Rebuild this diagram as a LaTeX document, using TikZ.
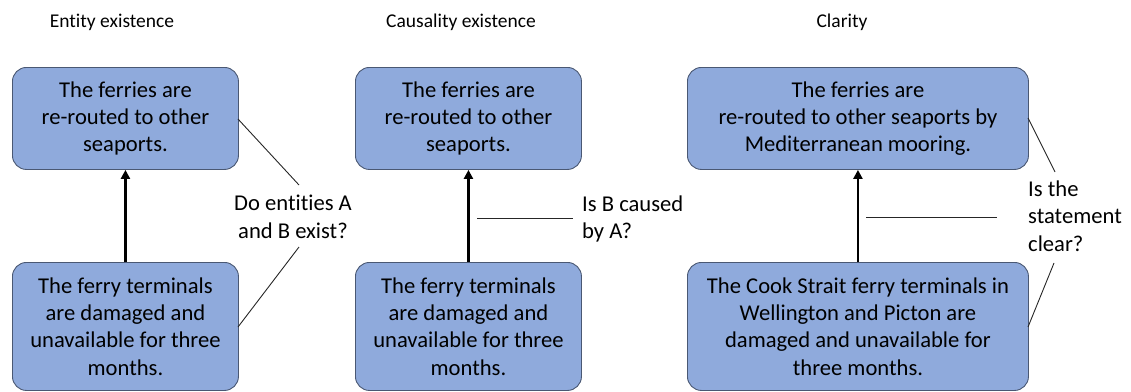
\documentclass[tikz,border=0pt]{standalone}
\usepackage{fontspec}
\setmainfont[Ligatures=NoCommon]{Carlito}
\usetikzlibrary{arrows.meta}
\definecolor{boxfill}{HTML}{8FAADC}
\definecolor{boxline}{HTML}{4A5873}
\tikzset{
  stmt/.style={draw=boxline, line width=0.9pt, fill=boxfill, rounded corners=14pt,
    align=center, inner sep=0pt, anchor=north west,
    font=\fontsize{22.6}{27.3}\selectfont},
  title/.style={font=\fontsize{19.5}{23}\selectfont, inner sep=0pt},
  question/.style={font=\fontsize{22.6}{27.5}\selectfont, inner sep=0pt},
  causal/.style={line width=2.3pt, -{Triangle[length=9pt,width=9pt]}},
  thin/.style={line width=0.9pt, draw=black!85},
}
\begin{document}
\begin{tikzpicture}[x=1pt,y=-1pt]
\useasboundingbox (0,0) rectangle (1131,391);
% titles
\node[title] (h1) at (112,22) {Entity existence};
\node[title] (h2) at (461,22) {Causality existence};
\node[title] (h3) at (842,22) {Clarity};
% panel 1
\node[stmt, minimum width=226pt, minimum height=102pt] (t1) at (12,67)
  {The ferries are\\re-routed to other\\seaports.};
\node[stmt, minimum width=226pt, minimum height=128pt] (b1) at (12,262)
  {The ferry terminals\\are damaged and\\unavailable for three\\months.};
\draw[causal] (b1.north) -- (t1.south);
\node[question, align=center] (q1) at (293,217) {Do entities A\\and B exist?};
\coordinate (q1a) at (299,185);
\coordinate (q1b) at (299,247);
\coordinate (t1e) at (238,119);
\coordinate (b1e) at (238,327);
\draw[thin] (t1e) -- (q1a);
\draw[thin] (q1b) -- (b1e);
% panel 2
\node[stmt, minimum width=226pt, minimum height=102pt] (t2) at (355,67)
  {The ferries are\\re-routed to other\\seaports.};
\node[stmt, minimum width=226pt, minimum height=128pt] (b2) at (355,262)
  {The ferry terminals\\are damaged and\\unavailable for three\\months.};
\draw[causal] (b2.north) -- (t2.south);
\node[question, align=left, anchor=west] (q2) at (582,219) {Is B caused\\by A?};
\coordinate (q2a) at (477,218);
\coordinate (q2b) at (573,218);
\draw[thin] (q2a) -- (q2b);
% panel 3
\node[stmt, minimum width=341pt, minimum height=102pt] (t3) at (687,67)
  {The ferries are\\re-routed to other seaports by\\Mediterranean mooring.};
\node[stmt, minimum width=341pt, minimum height=128pt] (b3) at (687,262)
  {The Cook Strait ferry terminals in\\Wellington and Picton are\\damaged and unavailable for\\three months.};
\draw[causal] (b3.north) -- (t3.south);
\node[question, align=left, anchor=west] (q3) at (1028,216) {Is the\\statement\\clear?};
\coordinate (q3a) at (866,217);
\coordinate (q3b) at (997,217);
\draw[thin] (q3a) -- (q3b);
\coordinate (t3e) at (1028,118);
\coordinate (q3c) at (1055,172);
\coordinate (q3d) at (1054,263);
\coordinate (b3e) at (1028,327);
\draw[thin] (t3e) -- (q3c);
\draw[thin] (q3d) -- (b3e);
\end{tikzpicture}
\end{document}
